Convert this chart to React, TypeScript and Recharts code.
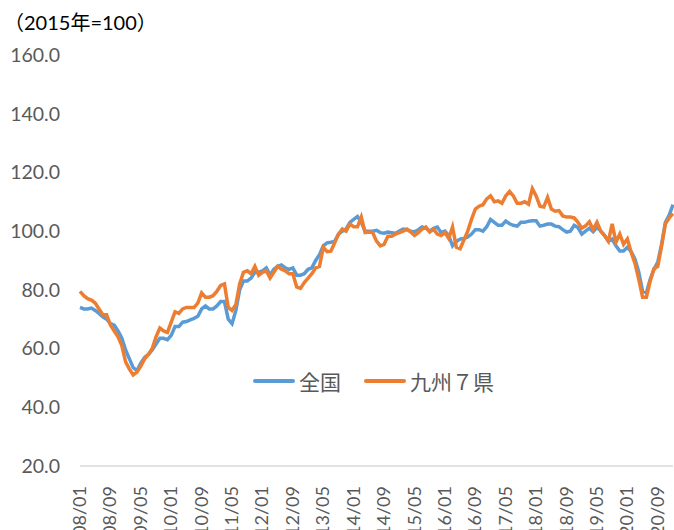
import { LineChart, Line, XAxis, YAxis } from 'recharts';

// 2008/01 .. 2021/01, monthly
const months: string[] = [];
for (let y = 2008; y <= 2021; y++) {
  for (let m = 1; m <= 12; m++) {
    if (months.length < 157) months.push(`${String(y % 100).padStart(2, '0')}/${String(m).padStart(2, '0')}`);
  }
}

const zenkoku = [
  74, 73.5, 73.5, 73.8, 73, 72, 70.8, 70, 68.5, 68, 66, 63.5,
  59.5, 56.5, 53.5, 52.5, 55, 57, 58, 59.5, 61.5, 63.5, 63.5, 63,
  64.5, 67.5, 67.5, 69, 69.2, 69.8, 70.3, 71, 73.5, 74.5, 73.5, 73.5,
  74.5, 76, 76, 70, 68.5, 73, 80, 83, 83, 84, 86, 86,
  86.5, 87.5, 85, 87, 88, 88.5, 87.5, 87, 87.5, 85, 85, 85.5,
  87, 87.5, 90, 92, 95, 96, 96.2, 96.5, 99, 100, 100.7, 103,
  104, 105, 103, 100, 100, 100, 100.3, 99.5, 99.3, 99.7, 99.5, 99.3,
  100, 100.7, 100.5, 100, 99.8, 100.5, 101.4, 101, 100, 101, 101.4, 99.5,
  100, 98.5, 95, 96.5, 97.3, 97.5, 98, 99, 100.5, 100.5, 100, 101.5,
  104, 103, 102, 102, 103.4, 102.5, 102, 101.7, 103, 103, 103.4, 103.5,
  103.5, 101.7, 102, 102.4, 102.4, 101.7, 101.5, 100.5, 99.7, 100, 102, 101.2,
  99, 100, 101, 99.8, 101.4, 100, 98.5, 96.6, 97.3, 95, 93.2, 93.2,
  94.5, 93, 90.5, 86, 79.5, 79, 83.6, 87, 89.5, 95.5, 103, 105.5,
  109,
];

const kyushu = [
  79.5, 78, 77, 76.5, 75.5, 73.5, 71.5, 71.5, 68, 66, 64, 61,
  55.5, 53, 51, 52, 54, 56.5, 58, 60, 64, 67, 66, 65.5,
  69, 72.5, 72, 73.5, 74, 74, 74, 75.5, 79, 77.5, 77.5, 78,
  79.5, 81.5, 82, 74, 73, 75, 82, 86, 86.5, 85.5, 88, 85,
  86, 86.5, 84, 86, 88, 87, 86.5, 85.5, 85.5, 81, 80.5, 82.5,
  84, 85.5, 87.5, 88, 94.5, 93, 93.2, 96, 99, 100.7, 100, 102.4,
  101.5, 101.5, 104.8, 99.5, 99.7, 99.5, 96.6, 95, 95.5, 98.3, 98.3, 99,
  99.5, 100, 100.7, 99.7, 98.5, 99.5, 100.7, 101.4, 99.7, 100.7, 99, 98.5,
  99.5, 97.5, 101.4, 94.5, 94, 97, 100, 104, 107.5, 108.5, 109, 111,
  112, 110, 110.3, 109.5, 112, 113.5, 112, 109.5, 109.5, 110, 109.2, 114.5,
  112, 108.5, 108.2, 111.5, 107.5, 106.8, 107, 105.2, 104.8, 104.8, 104.5, 103,
  101, 101.8, 103.2, 100.5, 103, 100, 98.5, 96.6, 102.5, 96.2, 99, 95.5,
  97.3, 92.8, 89, 83.6, 77.5, 77.5, 83, 87.2, 88, 95, 102.5, 104.5,
  106,
];

const yTicks = [20, 40, 60, 80, 100, 120, 140, 160];

const data = months.map((month, i) => ({ month, zenkoku: zenkoku[i], kyushu: kyushu[i] }));

const MonthTick = ({ x, y, payload }: any) => (
  <text
    x={x + 6}
    y={y + 12}
    transform={`rotate(-90, ${x + 6}, ${y + 12})`}
    textAnchor="end"
    fontSize={18}
    fill="#595959"
    fontFamily="Lato, 'Noto Sans'"
  >
    {payload.value}
  </text>
);

// legend drawn as an overlay so it doesn't shrink the plot area
const LegendBox = () => (
  <div
    style={{
      position: 'absolute', left: 253, top: 367,
      display: 'flex', alignItems: 'center',
      fontFamily: "'Noto Sans CJK JP'", fontSize: 21, lineHeight: '28px', color: '#595959',
    }}
  >
    <span style={{ width: 42, height: 4, borderRadius: 2, background: '#5B9BD5', marginRight: 4 }} />
    <span>全国</span>
    <span style={{ width: 42, height: 4, borderRadius: 2, background: '#ED7D31', marginLeft: 23, marginRight: 4 }} />
    <span>九州７県</span>
  </div>
);

export default function App() {
  return (
    <div style={{ position: 'absolute', left: 0, top: 0, width: 674, height: 530, overflow: 'hidden', background: '#fff' }}>
      <div style={{ position: 'absolute', left: 4, top: 9, fontSize: 20, lineHeight: '26px', color: '#000', fontFamily: "Lato, 'Noto Sans CJK JP'" }}>
        （2015年=100）
      </div>
      <LineChart width={700} height={600} data={data} margin={{ top: 55, right: 27, left: 0, bottom: 64 }}>
        <XAxis
          dataKey="month"
          interval={7}
          tick={<MonthTick />}
          tickLine={false}
          axisLine={{ stroke: '#d9d9d9', strokeWidth: 1.5 }}
          height={70}
        />
        <YAxis
          domain={[20, 160]}
          ticks={yTicks}
          tickFormatter={(v: number) => v.toFixed(1)}
          axisLine={false}
          tickLine={false}
          tickMargin={14}
          width={80}
          tick={{ fontSize: 19.5, fill: '#595959', fontFamily: "Lato, 'Noto Sans'" }}
        />
        <Line dataKey="zenkoku" name="全国" stroke="#5B9BD5" strokeWidth={3.5} dot={false} isAnimationActive={false} />
        <Line dataKey="kyushu" name="九州７県" stroke="#ED7D31" strokeWidth={3.5} dot={false} isAnimationActive={false} />
      </LineChart>
      <LegendBox />
    </div>
  );
}
